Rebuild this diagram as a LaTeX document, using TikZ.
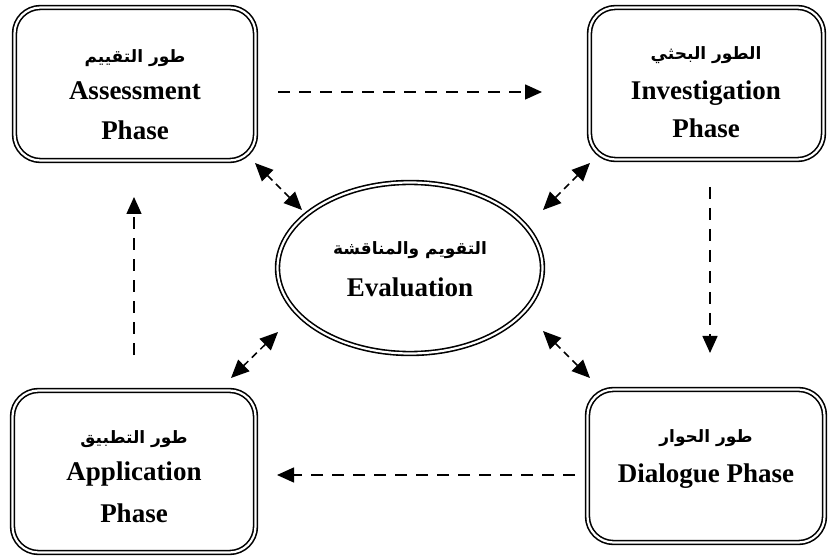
\documentclass[tikz,border=0pt]{standalone}
\usepackage{fontspec}
\setmainfont{Liberation Serif}
\newfontfamily\arabicfont[Script=Arabic]{DejaVu Sans}
\TeXXeTstate=1
\usetikzlibrary{shapes.geometric,arrows.meta}
\tikzset{
  phasebox/.style={draw, double=white, double distance=2.2pt, line width=1.6pt, rounded corners=26pt, inner sep=0pt},
  evalell/.style={ellipse, draw, double=white, double distance=2.2pt, line width=1.6pt, inner sep=0pt},
  entext/.style={anchor=base, inner sep=0pt, font=\fontsize{27}{30}\selectfont\bfseries},
  artext/.style={anchor=base, inner sep=0pt, font=\fontsize{17}{20}\selectfont\arabicfont\bfseries},
  flow/.style={dash pattern=on 12pt off 9pt, line width=1.5pt, -{Triangle[length=17pt,width=15pt]}},
  link/.style={dash pattern=on 7pt off 5pt, line width=1.5pt, {Triangle[length=18pt,width=16pt]}-{Triangle[length=18pt,width=16pt]}}
}
\begin{document}
\begin{tikzpicture}[x=1pt,y=-1pt]
\useasboundingbox (0,0) rectangle (828,556);
% boxes
\node[phasebox, minimum width=241pt, minimum height=153pt] (assess) at (135,84) {};
\node[phasebox, minimum width=234pt, minimum height=152pt] (invest) at (706.5,83.5) {};
\node[phasebox, minimum width=243pt, minimum height=162pt] (apply) at (134,471.5) {};
\node[phasebox, minimum width=237pt, minimum height=153pt] (dialog) at (706,466) {};
\node[evalell, minimum width=265pt, minimum height=171pt] (eval) at (410,268) {};
% texts
\node[artext] (assessar) at (135,63) {\beginR طور التقييم\endR};
\node[entext] (assessen) at (135,100) {Assessment};
\node[entext] (assessph) at (135,140) {Phase};
\node[artext] (investar) at (706,60) {\beginR الطور البحثي\endR};
\node[entext] (investen) at (706,100) {Investigation};
\node[entext] (investph) at (706,138) {Phase};
\node[artext] (evalar) at (410,255) {\beginR التقويم والمناقشة\endR};
\node[entext] (evalen) at (410,297) {Evaluation};
\node[artext] (applyar) at (134,443) {\beginR طور التطبيق\endR};
\node[entext] (applyen) at (134,480) {Application};
\node[entext] (applyph) at (134,522) {Phase};
\node[artext] (dialogar) at (706,442) {\beginR طور الحوار\endR};
\node[entext] (dialogen) at (706,482) {Dialogue Phase};
% connector ends
\coordinate (t1) at (278,92); \coordinate (t2) at (542,92);
\coordinate (r1) at (710,187); \coordinate (r2) at (710,353);
\coordinate (b1) at (575,475); \coordinate (b2) at (277,475);
\coordinate (l1) at (134,355); \coordinate (l2) at (134,197);
\coordinate (tl1) at (255,163); \coordinate (tl2) at (302,210);
\coordinate (tr1) at (590,163); \coordinate (tr2) at (543,210);
\coordinate (bl1) at (278,332); \coordinate (bl2) at (231,378);
\coordinate (br1) at (543,331); \coordinate (br2) at (590,378);
\draw[flow] (t1) -- (t2);
\draw[flow] (r1) -- (r2);
\draw[flow] (b1) -- (b2);
\draw[flow] (l1) -- (l2);
\draw[link] (tl1) -- (tl2);
\draw[link] (tr1) -- (tr2);
\draw[link] (bl1) -- (bl2);
\draw[link] (br1) -- (br2);
\end{tikzpicture}
\end{document}
